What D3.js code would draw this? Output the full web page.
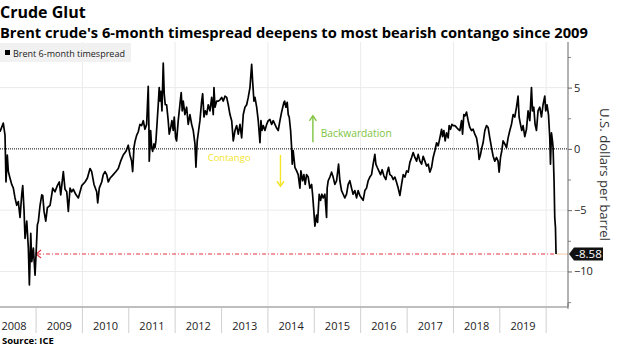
<!DOCTYPE html>
<html>
<head>
<meta charset="utf-8">
<script src="https://cdn.jsdelivr.net/npm/d3@7"></script>
<style>
  body { margin: 0; background: #fff; }
  svg { display: block; }
  text { font-family: "Open Sans", "Noto Sans", sans-serif; }
</style>
</head>
<body>
<div id="chart"></div>
<script>
// ---------- data (decimal years, USD per barrel)

var years = [
  2008.224, 2008.295, 2008.332, 2008.353, 2008.381, 2008.403, 2008.440, 2008.476, 2008.511, 2008.547,
  2008.584, 2008.618, 2008.655, 2008.692, 2008.713, 2008.741, 2008.763, 2008.800, 2008.834, 2008.856,
  2008.886, 2008.907, 2008.942, 2008.978, 2009.000, 2009.028, 2009.050, 2009.086, 2009.123, 2009.144,
  2009.172, 2009.209, 2009.244, 2009.302, 2009.360, 2009.409, 2009.459, 2009.502, 2009.532, 2009.588,
  2009.625, 2009.662, 2009.696, 2009.733, 2009.769, 2009.804, 2009.862, 2009.912, 2009.985, 2010.056,
  2010.106, 2010.164, 2010.200, 2010.250, 2010.308, 2010.330, 2010.364, 2010.416, 2010.450, 2010.487,
  2010.524, 2010.558, 2010.595, 2010.666, 2010.724, 2010.774, 2010.825, 2010.881, 2010.940, 2010.989,
  2011.026, 2011.062, 2011.084, 2011.112, 2011.134, 2011.170, 2011.205, 2011.241, 2011.278, 2011.313,
  2011.349, 2011.386, 2011.420, 2011.435, 2011.442, 2011.472, 2011.494, 2011.515, 2011.543, 2011.565,
  2011.586, 2011.614, 2011.636, 2011.657, 2011.672, 2011.694, 2011.716, 2011.744, 2011.765, 2011.787,
  2011.817, 2011.851, 2011.873, 2011.903, 2011.931, 2011.959, 2011.981, 2012.011, 2012.032, 2012.067,
  2012.103, 2012.131, 2012.153, 2012.175, 2012.211, 2012.248, 2012.282, 2012.319, 2012.356, 2012.390,
  2012.427, 2012.448, 2012.476, 2012.506, 2012.534, 2012.571, 2012.593, 2012.621, 2012.649, 2012.679,
  2012.713, 2012.750, 2012.787, 2012.821, 2012.836, 2012.858, 2012.894, 2012.929, 2012.966, 2013.002,
  2013.037, 2013.073, 2013.110, 2013.144, 2013.181, 2013.218, 2013.252, 2013.289, 2013.325, 2013.360,
  2013.397, 2013.433, 2013.468, 2013.504, 2013.541, 2013.575, 2013.612, 2013.649, 2013.670, 2013.698,
  2013.720, 2013.757, 2013.791, 2013.828, 2013.849, 2013.871, 2013.899, 2013.935, 2013.972, 2014.007,
  2014.043, 2014.080, 2014.114, 2014.151, 2014.188, 2014.222, 2014.259, 2014.295, 2014.345, 2014.360,
  2014.388, 2014.416, 2014.438, 2014.459, 2014.489, 2014.511, 2014.524, 2014.545, 2014.582, 2014.619,
  2014.653, 2014.690, 2014.711, 2014.748, 2014.776, 2014.804, 2014.834, 2014.869, 2014.905, 2014.942,
  2014.963, 2014.991, 2015.013, 2015.050, 2015.071, 2015.106, 2015.136, 2015.164, 2015.192, 2015.228,
  2015.265, 2015.278, 2015.300, 2015.336, 2015.373, 2015.407, 2015.444, 2015.481, 2015.524, 2015.552,
  2015.588, 2015.623, 2015.659, 2015.696, 2015.731, 2015.767, 2015.804, 2015.838, 2015.875, 2015.912,
  2015.946, 2015.983, 2016.019, 2016.054, 2016.091, 2016.127, 2016.162, 2016.198, 2016.235, 2016.269,
  2016.306, 2016.328, 2016.356, 2016.392, 2016.429, 2016.463, 2016.500, 2016.543, 2016.571, 2016.601,
  2016.629, 2016.666, 2016.700, 2016.737, 2016.774, 2016.808, 2016.845, 2016.881, 2016.916, 2016.953,
  2016.989, 2017.024, 2017.060, 2017.097, 2017.131, 2017.168, 2017.205, 2017.239, 2017.276, 2017.313,
  2017.347, 2017.384, 2017.420, 2017.455, 2017.491, 2017.528, 2017.562, 2017.599, 2017.636, 2017.670,
  2017.707, 2017.744, 2017.765, 2017.793, 2017.821, 2017.851, 2017.886, 2017.907, 2017.937, 2017.966,
  2017.994, 2018.030, 2018.067, 2018.101, 2018.138, 2018.175, 2018.196, 2018.224, 2018.252, 2018.282,
  2018.317, 2018.353, 2018.390, 2018.424, 2018.461, 2018.498, 2018.532, 2018.554, 2018.584, 2018.612,
  2018.640, 2018.677, 2018.714, 2018.748, 2018.784, 2018.821, 2018.856, 2018.892, 2018.929, 2018.963,
  2018.985, 2019.015, 2019.043, 2019.071, 2019.108, 2019.145, 2019.179, 2019.216, 2019.252, 2019.287,
  2019.323, 2019.360, 2019.394, 2019.416, 2019.446, 2019.474, 2019.502, 2019.539, 2019.575, 2019.610,
  2019.647, 2019.683, 2019.705, 2019.733, 2019.761, 2019.791, 2019.825, 2019.862, 2019.899, 2019.933,
  2019.970, 2019.991, 2020.019, 2020.050, 2020.078, 2020.093, 2020.114, 2020.136, 2020.149, 2020.170,
  2020.185, 2020.200, 2020.213
];

var spread = [
  1.4, 2.1, 1.1, -2.7, -0.5, -1.85, -2.4, -2.9, -3.2, -4.0,
  -4.6, -4.3, -5.6, -3.7, -3.0, -5.0, -7.3, -5.9, -8.1, -11.1,
  -6.9, -9.2, -8.1, -10.3, -8.6, -6.2, -5.9, -4.6, -3.75, -3.8,
  -5.1, -5.9, -4.8, -4.6, -3.2, -3.5, -3.0, -2.7, -3.75, -1.85,
  -3.3, -3.5, -5.1, -3.2, -3.5, -3.3, -3.75, -4.0, -3.0, -2.7,
  -2.4, -1.6, -1.85, -2.9, -3.5, -4.4, -3.2, -2.7, -2.1, -1.85,
  -2.1, -2.7, -2.4, -2.1, -1.85, -1.6, -1.0, -0.5, -0.2, 0.3,
  -0.5, -1.0, -1.85, 0.1, 0.6, 1.1, 1.4, 2.0, 1.9, 2.3,
  1.6, 2.0, 5.1, 1.7, -1.0, 1.5, 0.1, -0.2, 0.4, 0.1,
  0.65, 2.3, 3.6, 5.0, 3.9, 4.7, 3.1, 7.0, 4.5, 3.6,
  3.6, 2.3, 1.2, 1.7, 2.3, 1.5, 2.6, 0.9, 0.65, 2.3,
  3.6, 4.6, 3.1, 3.9, 2.8, 3.4, 2.0, 2.8, 2.0, 1.5,
  0.4, -1.5, 0.65, 1.5, 2.3, 3.9, 4.5, 2.6, 3.1, 2.8,
  3.6, 3.1, 4.2, 2.8, 5.0, 3.4, 3.9, 3.9, 4.0, 4.2,
  3.9, 4.3, 4.2, 3.6, 2.8, 2.3, 0.65, 1.5, 1.9, 1.2,
  2.0, 0.9, 2.8, 3.4, 3.6, 4.2, 5.0, 6.9, 5.5, 3.9,
  4.2, 3.4, 2.3, 0.5, 2.3, 1.5, 1.9, 1.5, 2.0, 2.3,
  2.4, 2.0, 2.3, 2.0, 1.7, 1.5, 2.3, 3.0, 3.8, 3.9,
  3.4, 3.8, 2.8, 2.6, 1.5, 0.1, -1.25, -0.15, -1.5, -1.8,
  -2.1, -3.2, -1.8, -2.6, -2.1, -2.9, -2.1, -2.3, -3.2, -2.9,
  -3.7, -5.1, -6.3, -5.4, -6.0, -3.7, -4.2, -3.7, -4.0, -3.7,
  -5.6, -3.2, -2.6, -2.3, -1.9, -2.3, -2.9, -2.6, -1.25, -2.6,
  -3.4, -3.7, -4.0, -3.7, -2.9, -2.6, -3.2, -3.7, -3.4, -4.0,
  -3.4, -3.8, -4.0, -4.2, -3.4, -3.2, -2.6, -2.3, -2.1, -1.25,
  -0.45, -1.25, -1.5, -1.8, -2.1, -1.7, -2.2, -2.5, -1.9, -1.5,
  -2.1, -2.2, -2.5, -2.3, -2.75, -3.2, -3.8, -2.9, -2.1, -2.3,
  -1.8, -1.9, -1.1, -0.7, -0.3, -0.7, -1.0, -0.45, -1.0, -1.25,
  -0.6, -1.0, -1.4, -1.25, -1.9, -1.5, -0.7, -0.15, 0.5, 0.25,
  0.9, 1.6, 1.0, 1.5, 0.65, 1.3, 0.9, 1.9, 1.6, 2.0,
  1.9, 1.9, 1.75, 1.6, 1.5, 2.3, 1.2, 2.8, 2.7, 3.0,
  2.3, 1.75, 1.5, 1.6, 1.2, 0.9, 0.1, -0.85, -0.45, 0.1,
  0.5, 1.5, 1.9, 1.75, 0.9, 0.1, -0.6, -1.0, -0.7, -1.0,
  -1.9, -0.7, -0.15, 0.65, 0.4, 0.1, 0.9, 1.5, 2.0, 2.8,
  2.6, 3.4, 4.3, 2.6, 2.0, 1.5, 1.9, 1.0, 1.6, 3.1,
  2.3, 5.0, 3.1, 3.4, 2.0, 1.5, 3.1, 3.4, 2.6, 3.6,
  4.3, 3.1, 3.6, 2.8, 0.9, -1.25, 1.3, 0.65, 0.1, -2.6,
  -5.6, -6.4, -8.58
];

var yearLabels = ["2008", "2009", "2010", "2011", "2012", "2013", "2014", "2015", "2016", "2017", "2018", "2019"];
var yTicks = [-10, -5, 0, 5];
var yMinorTicks = [-12.5, -7.5, -2.5, 2.5, 7.5];
var gridYears = [2010, 2012, 2014, 2016, 2018, 2020];
var lastValue = -8.58;
var lastValueFrom = 2009.0;   // where the red reference arrow points back to

// ---------- layout

var width = 620, height = 348;
var plotLeft = 0, plotRight = 568, plotTop = 42, plotBottom = 307;

function decToDate(t)
{
	var yr = Math.floor(t);
	var start = new Date(yr, 0, 1), end = new Date(yr + 1, 0, 1);
	return new Date(+start + (t - yr) * (end - start));
}

var series = d3.zip(years, spread).map(d => ({ date: decToDate(d[0]), value: d[1] }));

var x = d3.scaleTime()
	.domain([decToDate(2008.224), decToDate(2020.47)])
	.range([plotLeft, plotRight]);

var y = d3.scaleLinear()
	.domain([-12.9, 8.72])
	.range([plotBottom, plotTop]);

var svg = d3.select("#chart").append("svg")
	.attr("width", width)
	.attr("height", height);

// shrink/grow a text so that it takes a given width
function fitWidth(sel, target)
{
	var node = sel.node();
	var fs = parseFloat(sel.attr("font-size"));
	var len = node.getComputedTextLength();
	sel.attr("font-size", (fs * target / len).toFixed(2));
}

// ---------- titles

svg.append("text")
	.attr("x", 0).attr("y", 18)
	.attr("font-family", "DejaVu Sans")
	.attr("font-weight", "bold")
	.attr("font-size", 16)
	.attr("fill", "#000")
	.text("Crude Glut");

svg.append("text")
	.attr("x", 0).attr("y", 37.5)
	.attr("font-family", "DejaVu Sans")
	.attr("font-weight", "bold")
	.attr("font-size", 13)
	.attr("fill", "#000")
	.text("Brent crude's 6-month timespread deepens to most bearish contango since 2009")
	.call(fitWidth, 588);

// ---------- grid

var grid = svg.append("g").attr("class", "grid");

grid.selectAll("line.hgrid")
	.data(yTicks.filter(d => d != 0))
	.enter().append("line")
	.attr("class", "hgrid")
	.attr("x1", plotLeft).attr("x2", plotRight)
	.attr("y1", d => y(d)).attr("y2", d => y(d))
	.attr("stroke", "#ebebeb");

grid.selectAll("line.vgrid")
	.data(gridYears)
	.enter().append("line")
	.attr("class", "vgrid")
	.attr("x1", d => x(new Date(d, 0, 1))).attr("x2", d => x(new Date(d, 0, 1)))
	.attr("y1", plotTop).attr("y2", plotBottom)
	.attr("stroke", "#ebebeb");

// ---------- legend

var legend = svg.append("g").attr("transform", "translate(0, 43)");
legend.append("rect")
	.attr("width", 131).attr("height", 19)
	.attr("fill", "#f0f0f0").attr("fill-opacity", 0.92);
legend.append("rect")
	.attr("x", 5).attr("y", 7).attr("width", 5).attr("height", 5)
	.attr("fill", "#000");
legend.append("text")
	.attr("x", 13).attr("y", 13.5)
	.attr("font-size", 10)
	.attr("fill", "#222")
	.text("Brent 6-month timespread")
	.call(fitWidth, 112);

// ---------- zero line

svg.append("line")
	.attr("x1", plotLeft).attr("x2", plotRight)
	.attr("y1", y(0)).attr("y2", y(0))
	.attr("stroke", "#000")
	.attr("stroke-width", 1)
	.attr("stroke-dasharray", "1,1");

// ---------- annotations

var annot = svg.append("g");

function arrow(g, t, v1, v2, color)
{
	var ax = x(decToDate(t)), y1 = y(v1), y2 = y(v2);
	var dir = y2 < y1 ? 1 : -1;
	g.append("line")
		.attr("x1", ax).attr("x2", ax)
		.attr("y1", y1).attr("y2", y2 + dir * 0.5)
		.attr("stroke", color).attr("stroke-width", 1.4);
	g.append("path")
		.attr("d", `M${ax - 3.5},${y2 + dir * 5} L${ax},${y2} L${ax + 3.5},${y2 + dir * 5}`)
		.attr("fill", "none")
		.attr("stroke", color).attr("stroke-width", 1.4);
}

arrow(annot, 2014.97, 0.55, 2.7, "#80c441");
annot.append("text")
	.attr("x", x(decToDate(2015.14))).attr("y", y(1.3))
	.attr("dy", "0.35em")
	.attr("font-size", 11)
	.attr("fill", "#80c441")
	.text("Backwardation")
	.call(fitWidth, 71);

arrow(annot, 2014.27, -0.5, -3.05, "#f3e42a");
annot.append("text")
	.attr("x", x(decToDate(2012.70))).attr("y", y(-0.68))
	.attr("dy", "0.35em")
	.attr("font-size", 11)
	.attr("fill", "#f3e42a")
	.text("Contango")
	.call(fitWidth, 43);

// ---------- reference line at the latest value

var lastDate = series[series.length - 1].date;
var refY = y(lastValue);
var refX0 = x(decToDate(lastValueFrom));

svg.append("line")
	.attr("x1", refX0 + 1).attr("x2", x(lastDate))
	.attr("y1", refY).attr("y2", refY)
	.attr("stroke", "#e2323f")
	.attr("stroke-width", 1.1)
	.attr("stroke-dasharray", "4,2,1,2");

svg.append("path")
	.attr("d", `M${refX0 + 5},${refY - 4} L${refX0},${refY} L${refX0 + 5},${refY + 4}`)
	.attr("fill", "none")
	.attr("stroke", "#e2323f")
	.attr("stroke-width", 1.1);

svg.append("line")
	.attr("x1", x(lastDate)).attr("x2", plotRight)
	.attr("y1", refY).attr("y2", refY)
	.attr("stroke", "#f6c9a0")
	.attr("stroke-width", 1);

// ---------- the series

var line = d3.line()
	.x(d => x(d.date))
	.y(d => y(d.value));

svg.append("path")
	.datum(series)
	.attr("d", line)
	.attr("fill", "none")
	.attr("stroke", "#000")
	.attr("stroke-width", 1.7)
	.attr("stroke-linejoin", "round");

// ---------- right axis

var yAxis = svg.append("g")
	.attr("transform", `translate(${plotRight}, 0)`)
	.call(d3.axisRight(y).tickValues(yTicks).tickSize(4).tickPadding(2).tickFormat(d3.format("d")));

yAxis.select(".domain").remove();
yAxis.selectAll(".tick line").attr("stroke", "#666");
yAxis.selectAll(".tick text")
	.attr("font-family", "Open Sans")
	.attr("font-size", 11)
	.attr("fill", "#222");

var yMinor = svg.append("g")
	.attr("transform", `translate(${plotRight}, 0)`)
	.call(d3.axisRight(y).tickValues(yMinorTicks).tickSize(3).tickFormat(""));
yMinor.select(".domain").remove();
yMinor.selectAll(".tick line").attr("stroke", "#888");

svg.append("line")
	.attr("x1", plotRight).attr("x2", plotRight)
	.attr("y1", plotTop).attr("y2", plotBottom)
	.attr("stroke", "#666");

svg.append("text")
	.attr("transform", `translate(605, ${(plotTop + plotBottom) / 2}) rotate(90)`)
	.attr("text-anchor", "middle")
	.attr("dy", "0.35em")
	.attr("font-size", 13)
	.attr("fill", "#333")
	.text("U.S. dollars per barrel")
	.call(fitWidth, 133);

// last value tag
var tag = svg.append("g").attr("transform", `translate(${plotRight + 1}, ${refY})`);
tag.append("path")
	.attr("d", "M0,0 L5,-6.5 L34,-6.5 L34,6.5 L5,6.5 Z")
	.attr("fill", "#111");
tag.append("text")
	.attr("x", 19.5).attr("dy", "0.36em")
	.attr("text-anchor", "middle")
	.attr("font-size", 11.5)
	.attr("fill", "#fff")
	.text(d3.format(".2f")(lastValue).replace("−", "-"));

// ---------- bottom axis

svg.append("line")
	.attr("x1", plotLeft).attr("x2", plotRight)
	.attr("y1", plotBottom).attr("y2", plotBottom)
	.attr("stroke", "#a8a8a8")
	.attr("stroke-width", 1.5);

svg.append("line")
	.attr("x1", plotRight).attr("x2", plotRight)
	.attr("y1", plotBottom - 4).attr("y2", plotBottom + 2)
	.attr("stroke", "#777");

var yearStarts = d3.timeYear.range(new Date(2009, 0, 1), new Date(2021, 0, 1));

svg.selectAll("line.sep")
	.data(yearStarts)
	.enter().append("line")
	.attr("class", "sep")
	.attr("x1", d => x(d)).attr("x2", d => x(d))
	.attr("y1", plotBottom + 1).attr("y2", 333)
	.attr("stroke", "#d0d0d0");

svg.selectAll("text.year")
	.data(yearLabels)
	.enter().append("text")
	.attr("class", "year")
	.attr("x", d =>
	{
		var mid = (x(new Date(+d, 0, 1)) + x(new Date(+d + 1, 0, 1))) / 2;
		return Math.max(mid, 14);
	})
	.attr("y", 330)
	.attr("text-anchor", "middle")
	.attr("font-size", 11)
	.attr("fill", "#222")
	.text(d => d);

// ---------- source

svg.append("text")
	.attr("x", 2).attr("y", 344)
	.attr("font-family", "DejaVu Sans")
	.attr("font-weight", "bold")
	.attr("font-size", 9.5)
	.attr("fill", "#000")
	.text("Source: ICE");
</script>
</body>
</html>
